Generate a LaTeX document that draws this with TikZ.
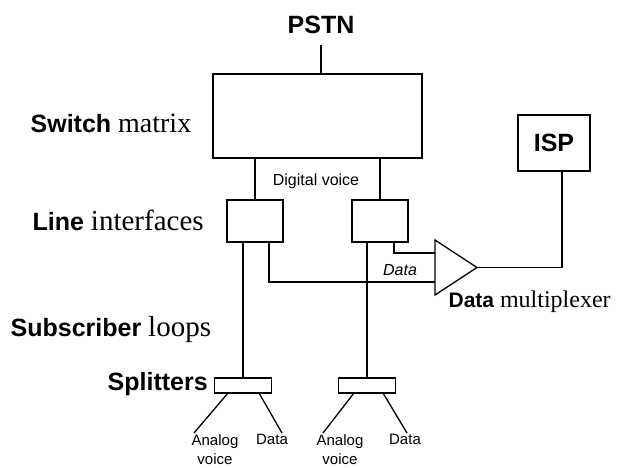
\documentclass[tikz,border=0pt]{standalone}
\usepackage{fontspec}
\setmainfont{Liberation Sans}
\newfontfamily\serifw{Liberation Serif}
\usetikzlibrary{shapes.geometric}
\begin{document}
\begin{tikzpicture}[x=1bp, y=-1bp, line width=1.3bp,
    box/.style = {draw, inner sep=0pt, outer sep=0pt},
    lbl/.style = {font=\fontsize{25bp}{28bp}\selectfont\bfseries, inner sep=0pt},
    tiny/.style = {font=\fontsize{15bp}{19bp}\selectfont, inner sep=1bp}]
\useasboundingbox (0,0) rectangle (623,468);
\node[lbl] (pstn) at (321,25) {PSTN};
\node[box, minimum width=209bp, minimum height=84bp] (sw) at (317.5,116) {};
\node[box, minimum width=56bp, minimum height=42bp] (ifl) at (255,221) {};
\node[box, minimum width=56bp, minimum height=42bp] (ifr) at (380,221) {};
\node[box, lbl, minimum width=72bp, minimum height=56bp] (isp) at (554,143) {ISP};
\node[box, isosceles triangle, isosceles triangle stretches, minimum width=55bp, minimum height=42bp, anchor=lower side] (mux) at (435,267.5) {};
\node[box, minimum width=57bp, minimum height=15bp] (spl) at (243,385.5) {};
\node[box, minimum width=57bp, minimum height=15bp] (spr) at (367,385.5) {};
\node[lbl, anchor=west] (swl) at (30,123) {Switch {\serifw\mdseries\fontsize{28bp}{30bp}\selectfont matrix}};
\node[lbl, anchor=west] (lil) at (32,220) {Line {\serifw\mdseries\fontsize{29bp}{30bp}\selectfont interfaces}};
\node[lbl, anchor=west] (sbl) at (10,330) {Subscriber {\serifw\mdseries\fontsize{29bp}{30bp}\selectfont loops}};
\node[lbl, anchor=west] (spll) at (107,384) {Splitters};
\node[lbl, anchor=west, font=\fontsize{21bp}{24bp}\selectfont\bfseries] (mxl) at (448,302) {Data {\serifw\mdseries\fontsize{24bp}{26bp}\selectfont multiplexer}};
\node[tiny, font=\fontsize{16bp}{18bp}\selectfont] (dv) at (316,181) {Digital voice};
\node[tiny, font=\fontsize{16bp}{18bp}\selectfont\itshape] (dt) at (400,270) {Data};
\node[tiny, align=center, anchor=north] (avl) at (215,433) {Analog\\voice};
\node[tiny, anchor=north] (dl) at (272,433) {Data};
\node[tiny, align=center, anchor=north] (avr) at (340,433) {Analog\\voice};
\node[tiny, anchor=north] (dr) at (405,433) {Data};
\draw ([yshift=-11bp]pstn.south) -- (pstn.south |- sw.north);
\draw (sw.south -| ifl) -- (ifl.north);
\draw (sw.south -| ifr) -- (ifr.north);
\draw (spl.north) -- (spl.north |- ifl.south);
\draw (spr.north) -- (spr.north |- ifr.south);
\draw ([xshift=14bp]ifl.south) |- ([yshift=-14.5bp]mux.lower side);
\draw ([xshift=14bp]ifr.south) |- ([yshift=14.5bp]mux.lower side);
\draw (mux.apex) -| ([xshift=8bp]isp.south);
\draw ([xshift=-15bp]spl.south) -- ([xshift=4bp]avl.north west);
\draw ([xshift=16bp]spl.south) -- ([xshift=10bp]dl.north);
\draw ([xshift=-13bp]spr.south) -- ([xshift=8bp]avr.north west);
\draw ([xshift=16bp]spr.south) -- ([xshift=2bp]dr.north);
\end{tikzpicture}
\end{document}
